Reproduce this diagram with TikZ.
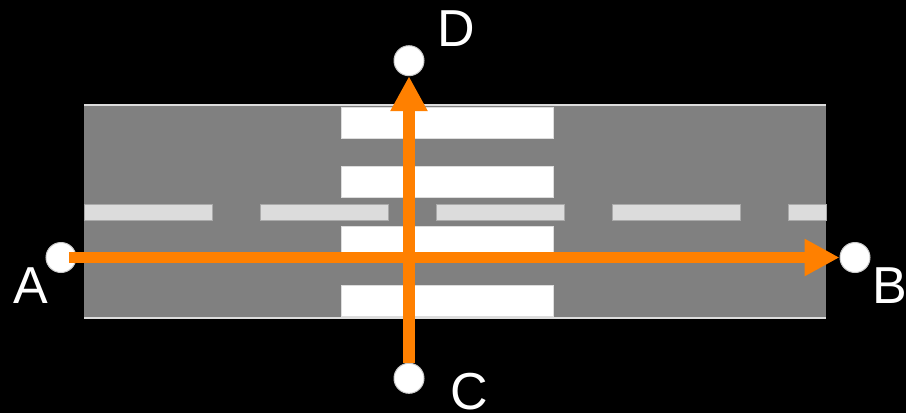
\documentclass[tikz,border=0pt]{standalone}
\usepackage{fontspec}
\setmainfont{Liberation Sans}
\usetikzlibrary{arrows.meta}
\definecolor{roadgray}{RGB}{128,128,128}
\definecolor{edgegray}{RGB}{221,221,221}
\definecolor{dashfill}{RGB}{220,220,220}
\definecolor{dashedge}{RGB}{170,170,170}
\definecolor{arroworange}{RGB}{255,128,0}
\tikzset{
  stripe/.style={fill=white, draw=edgegray, line width=1pt},
  lanedash/.style={fill=dashfill, draw=dashedge, line width=0.6pt},
  endpoint/.style={circle, fill=white, draw=edgegray!80!gray, line width=1pt, minimum size=30pt, inner sep=0pt},
  letter/.style={anchor=base, inner sep=0pt, text=white, font=\fontsize{52}{52}\selectfont},
  route/.style={draw=arroworange, line width=11.6pt, -{Triangle[length=35pt,width=35pt]}}
}
\begin{document}
\begin{tikzpicture}[x=1pt,y=-1pt]
\fill[black] (0,0) rectangle (906,413);
\useasboundingbox (0,0) rectangle (906,413);
% road
\fill[roadgray] (84,105) rectangle (826,318);
\draw[edgegray, line width=1.5pt] (84,105) -- (826,105);
\draw[edgegray, line width=1.5pt] (84,318) -- (826,318);
% lane dashes
\foreach \x/\w in {84/212, 260/388, 436/564, 612/740, 788/826}
  \filldraw[lanedash] (\x,204) rectangle (\w,220);
% crosswalk stripes
\foreach \y in {107, 166, 226, 285}
  \filldraw[stripe] (341,\y) rectangle (553,\y+31);
% end points
\node[endpoint] (A) at (61,257.5) {};
\node[endpoint] (B) at (855,257.5) {};
\node[endpoint] (C) at (409,378.3) {};
\node[endpoint] (D) at (409,60.7) {};
% labels
\node[letter] (la) at (31,303) {A};
\node[letter] (lb) at (890.3,303) {B};
\node[letter] (lc) at (469.5,409) {C};
\node[letter] (ld) at (456,46) {D};
% routes
\draw[route, shorten <=8pt] (A.center) -- (B.west);
\draw[route] (C.north) -- (D.south);
\end{tikzpicture}
\end{document}
